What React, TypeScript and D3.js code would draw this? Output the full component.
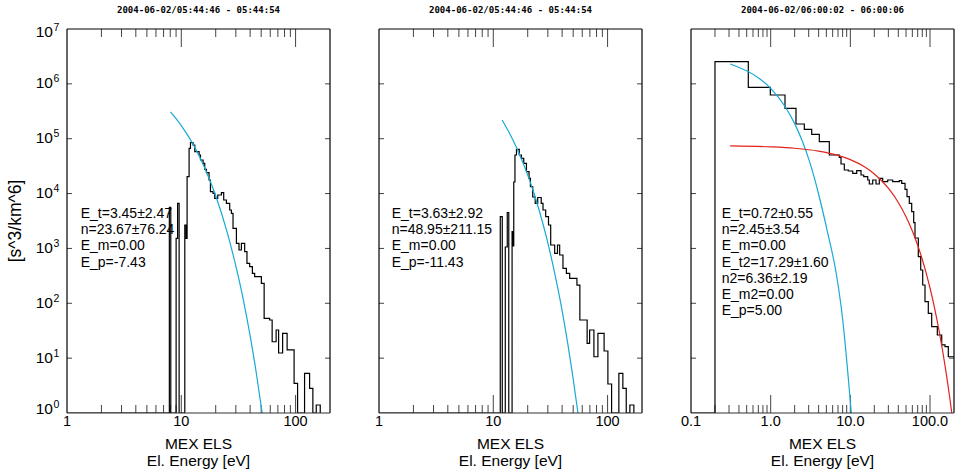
import React, { useEffect } from "react";
import * as d3 from "d3";

// ---------- data ----------
const titles = [
  "2004-06-02/05:44:46 - 05:44:54",
  "2004-06-02/05:44:46 - 05:44:54",
  "2004-06-02/06:00:02 - 06:00:06",
];

// panel 1 histogram (step left edge energy [eV], phase space density)
const energy1 = [1, 7.86, 8.09, 9.01, 9.28, 9.57, 10.73, 11.01, 11.24, 11.70, 12.03, 12.68, 13.12, 14.31, 14.72, 15.50, 16.04, 16.60, 17.49, 17.99, 18.96, 19.62, 20.84, 22.44, 23.50, 24.82, 26.52, 27.44, 28.35, 30.35, 31.98, 33.56, 35.85, 37.55, 39.66, 41.86, 43.84, 50.17, 53.07, 59.29, 62.35, 67.55, 71.03, 77.00, 84.30, 97.03, 104.1, 119.8, 132.6, 141.6, 151.6, 164.3];
const psd1 = [0, 5620, 0, 1530, 6645, 0, 2673, 1530, 20300, 66800, 84570, 76800, 57970, 50460, 40900, 35610, 27690, 24000, 17670, 10810, 10110, 8195, 9413, 10370, 7630, 6645, 5015, 4368, 2326, 1240, 936, 1240, 871, 535, 464, 352, 305, 231, 53.2, 49.6, 19.9, 32.6, 12.4, 28.4, 14.1, 3.48, 0, 5.29, 2.82, 0, 1.40, 0];

// panel 2 histogram
const energy2 = [1, 11.51, 11.98, 12.73, 13.25, 13.66, 14.60, 14.89, 15.10, 15.47, 15.95, 16.87, 17.63, 18.47, 19.50, 20.54, 21.13, 22.13, 23.27, 24.47, 26.26, 27.22, 28.73, 30.41, 31.78, 34.44, 36.44, 38.08, 40.70, 43.59, 46.58, 53.93, 57.19, 66.22, 69.62, 75.91, 82.29, 93.20, 100.6, 108.4, 125.5, 136.0, 145.6, 156.6, 169.7];
const psd2 = [0, 3787, 0, 1061, 4515, 0, 2017, 1107, 16240, 50460, 64100, 50460, 43920, 35610, 25030, 18980, 13340, 8656, 6645, 8477, 6645, 5015, 3787, 2673, 1154, 815, 1154, 759, 434, 352, 285, 215, 49.6, 18.6, 32.6, 10.6, 28.4, 13.5, 3.38, 0, 5.29, 2.82, 0, 1.40, 0];

// panel 3 histogram
const energy3 = [0.1, 0.20, 0.524, 0.990, 1.513, 2.079, 2.644, 3.273, 4.077, 5.444, 7.268, 7.635, 8.400, 9.428, 10.71, 12.02, 13.61, 14.72, 16.52, 17.30, 19.09, 21.00, 23.09, 25.48, 29.44, 34.02, 41.16, 44.12, 48.55, 51.43, 54.96, 58.90, 62.40, 64.79, 71.29, 76.39, 80.95, 86.50, 95.17, 105.0, 123.5, 140.2, 154.3, 169.7, 200];
const psd3 = [0, 2533000, 864900, 626200, 358300, 185400, 148400, 120300, 88190, 50460, 45420, 34580, 26890, 25780, 23400, 26110, 21790, 20300, 17670, 14940, 17670, 14940, 18980, 16450, 17670, 16450, 17160, 15380, 11960, 8766, 6645, 4670, 2943, 1549, 706.6, 404.2, 215.4, 106.9, 65.7, 37.4, 26.4, 17.4, 16.2, 10.6, 10.6];

// fitted curves
const fitE1 = [8.05, 10, 13, 16, 20, 25, 30, 35, 40, 45, 51];
const fitF1 = [309000, 173800, 72440, 29510, 9120, 2089, 478.6, 112.2, 25.7, 5.89, 1.0];
const fitE2 = [11.94, 13.93, 15.95, 19.5, 22.26, 25.48, 29.14, 34.44, 39.41, 45.02, 49.78, 55.03];
const fitF2 = [218800, 123000, 69200, 25100, 11500, 4570, 1620, 355, 87.1, 17.4, 4.47, 1.0];
const fitE3 = [0.311, 0.72, 1.0, 1.5, 2, 2.5, 3, 3.5, 4, 5.168, 6.703, 7.973, 8.95, 9.761, 10.28];
const fitF3 = [2301000, 1256000, 829800, 395500, 188400, 89740, 42850, 20420, 9727, 1992, 327.7, 53.9, 10.06, 2.41, 1.0];
const fitE3b = [0.31, 1, 2, 4, 7, 10, 15, 20, 30, 40, 50, 60, 70, 80, 90, 100, 115, 130, 145, 160, 175, 190];
const fitF3b = [74130, 71120, 66990, 59430, 49660, 41500, 30760, 22800, 12530, 6887, 3784, 2080, 1143, 628, 345, 190, 77.3, 31.5, 12.8, 5.22, 2.13, 0.87];

const fitText1 = ["E_t=3.45\u00b12.47", "n=23.67\u00b176.24", "E_m=0.00", "E_p=-7.43"];
const fitText2 = ["E_t=3.63\u00b12.92", "n=48.95\u00b1211.15", "E_m=0.00", "E_p=-11.43"];
const fitText3 = ["E_t=0.72\u00b10.55", "n=2.45\u00b13.54", "E_m=0.00", "E_t2=17.29\u00b11.60", "n2=6.36\u00b12.19", "E_m2=0.00", "E_p=5.00"];

const xLabelVals12 = [1, 10, 100];
const xLabels12 = ["1", "10", "100"];
const xLabelVals3 = [0.1, 1, 10, 100];
const xLabels3 = ["0.1", "1.0", "10.0", "100.0"];
const yDecades = [0, 1, 2, 3, 4, 5, 6, 7];

const CYAN = "#15aad8";
const RED = "#e3221c";
const FONT = "'Liberation Sans', Arial, Helvetica, sans-serif";

type Fit = { e: number[]; f: number[]; color: string };
type Panel = {
  left: number; right: number; domain: [number, number];
  hx: number[]; hy: number[]; fits: Fit[]; text: string[]; textX: number;
  title: string; lv: number[]; ll: string[]; showY: boolean;
};

const TOP = 29, BOTTOM = 413;

const panels: Panel[] = [
  { left: 67, right: 330, domain: [1, 200], hx: energy1, hy: psd1, fits: [{ e: fitE1, f: fitF1, color: CYAN }], text: fitText1, textX: 80.7, title: titles[0], lv: xLabelVals12, ll: xLabels12, showY: true },
  { left: 379, right: 642, domain: [1, 200], hx: energy2, hy: psd2, fits: [{ e: fitE2, f: fitF2, color: CYAN }], text: fitText2, textX: 391.7, title: titles[1], lv: xLabelVals12, ll: xLabels12, showY: false },
  { left: 691, right: 954, domain: [0.1, 200], hx: energy3, hy: psd3, fits: [{ e: fitE3, f: fitF3, color: CYAN }, { e: fitE3b, f: fitF3b, color: RED }], text: fitText3, textX: 721.7, title: titles[2], lv: xLabelVals3, ll: xLabels3, showY: false },
];

function PanelView({ p, idx }: { p: Panel; idx: number }) {
  const x = d3.scaleLog().domain(p.domain).range([p.left, p.right]);
  const y = d3.scaleLog().domain([1, 1e7]).range([BOTTOM, TOP]);
  const ticks = x.ticks();
  const isMajor = (v: number) => {
    const l = Math.log10(v);
    return Math.abs(l - Math.round(l)) < 1e-6;
  };
  const hist = d3
    .line<[number, number]>()
    .x((d) => x(d[0]))
    .y((d) => y(Math.max(d[1], 1)))
    .curve(d3.curveStepAfter)(p.hx.map((e, i) => [e, p.hy[i]] as [number, number]));
  const cx = (p.left + p.right) / 2;
  const clipId = `clip${idx}`;
  const tickCol = "#444";
  return (
    <g>
      <defs>
        <clipPath id={clipId}>
          <rect x={p.left} y={TOP} width={p.right - p.left} height={BOTTOM - TOP} />
        </clipPath>
      </defs>
      <text x={cx} y={12.7} textAnchor="middle" fontFamily="'DejaVu Sans Mono', monospace" fontWeight="bold" fontSize={9} textLength={163} lengthAdjust="spacingAndGlyphs">
        {p.title}
      </text>
      {/* x ticks top and bottom */}
      {ticks.map((v, i) => {
        const xx = x(v);
        if (xx <= p.left + 0.5 || xx >= p.right - 0.5) return null;
        const len = isMajor(v) ? 18 : 8;
        return (
          <g key={i} stroke={tickCol} strokeWidth={1}>
            <line x1={xx} x2={xx} y1={TOP} y2={TOP + len} />
            <line x1={xx} x2={xx} y1={BOTTOM} y2={BOTTOM - len} />
          </g>
        );
      })}
      {/* y ticks */}
      {yDecades.map((d) => {
        const yy = y(Math.pow(10, d));
        if (d === 0 || d === 7) return null;
        return (
          <g key={d} stroke={tickCol} strokeWidth={1}>
            <line x1={p.left} x2={p.left + 5} y1={yy} y2={yy} />
            <line x1={p.right} x2={p.right - 5} y1={yy} y2={yy} />
          </g>
        );
      })}
      {/* histogram and fits */}
      <g clipPath={`url(#${clipId})`}>
        <path d={hist || ""} fill="none" stroke="#000" strokeWidth={1.2} />
        {p.fits.map((f, i) => {
          const ln = d3
            .line<[number, number]>()
            .x((d) => x(d[0]))
            .y((d) => y(d[1]))
            .curve(d3.curveMonotoneX)(f.e.map((e, j) => [e, f.f[j]] as [number, number]));
          return <path key={i} d={ln || ""} fill="none" stroke={f.color} strokeWidth={1.2} />;
        })}
      </g>
      {/* frame */}
      <line x1={p.left} x2={p.right} y1={TOP} y2={TOP} stroke="#000" strokeWidth={1.2} />
      <line x1={p.left} x2={p.left} y1={TOP} y2={BOTTOM} stroke="#000" strokeWidth={1.2} />
      <line x1={p.right} x2={p.right} y1={TOP} y2={BOTTOM} stroke="#000" strokeWidth={1.2} />
      <line x1={p.left} x2={p.right} y1={BOTTOM} y2={BOTTOM} stroke="#333" strokeWidth={1.2} />
      {/* fit annotations */}
      {p.text.map((t, i) => (
        <text key={i} x={p.textX} y={218 + i * 16.2} fontSize={14} fontFamily={FONT} fill="#000">
          {t}
        </text>
      ))}
      {/* x tick labels */}
      {p.lv.map((v, i) => (
        <text key={i} x={x(v)} y={425.5} textAnchor="middle" fontSize={14.5} fontFamily={FONT}>
          {p.ll[i]}
        </text>
      ))}
      <text x={cx} y={448.5} textAnchor="middle" fontSize={15.5} fontFamily={FONT}>MEX ELS</text>
      <text x={cx} y={466} textAnchor="middle" fontSize={15.5} fontFamily={FONT}>El. Energy [eV]</text>
      {/* y tick labels */}
      {p.showY &&
        yDecades.map((d) => {
          const yy = y(Math.pow(10, d));
          const base = d === 7 ? yy + 8.3 : d === 0 ? yy + 0.5 : yy + 4.4;
          return (
            <g key={d} fontFamily={FONT}>
              <text x={53} y={base} textAnchor="end" fontSize={15.5}>10</text>
              <text x={53.5} y={base - 6} fontSize={10.5}>{String(d)}</text>
            </g>
          );
        })}
      {p.showY && (
        <text transform={`translate(21,${(TOP + BOTTOM) / 2}) rotate(-90)`} textAnchor="middle" fontSize={17.5} fontFamily={FONT}>
          [s^3/km^6]
        </text>
      )}
    </g>
  );
}

export default function App() {
  useEffect(() => {
    document.body.style.margin = "0";
  }, []);
  return (
    <svg width={958} height={472} style={{ display: "block", position: "absolute", left: 0, top: 0, background: "#fff" }}>
      <rect x={0} y={0} width={958} height={472} fill="#fff" />
      {panels.map((p, i) => (
        <PanelView key={i} p={p} idx={i} />
      ))}
    </svg>
  );
}
